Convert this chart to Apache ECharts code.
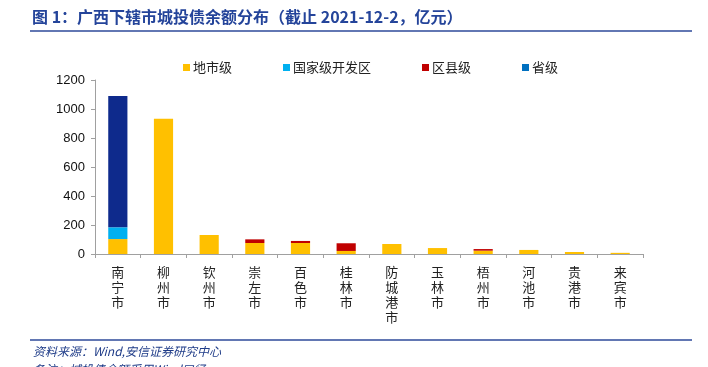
<!DOCTYPE html>
<html><head><meta charset="utf-8">
<script src="https://cdn.jsdelivr.net/npm/echarts@6/dist/echarts.min.js"></script>
<style>html,body{margin:0;padding:0;background:#fff}#c{width:708px;height:367px}</style>
</head><body><div id="c"></div>
<script>
var categories = ['南宁市','柳州市','钦州市','崇左市','百色市','桂林市','防城港市','玉林市','梧州市','河池市','贵港市','来宾市'];
var seriesNames = ['地市级','国家级开发区','区县级','省级'];
var cityLevel = [103, 933, 131, 76, 76, 21, 69, 41, 23, 28, 14, 8];
var devZone   = [81, 0, 0, 0, 0, 0, 0, 0, 0, 0, 0, 0];
var county    = [0, 0, 0, 25, 14, 53, 0, 0, 11, 0, 0, 0];
var province  = [906, 0, 0, 0, 0, 0, 0, 0, 0, 0, 0, 0];
var yTicks = [0, 200, 400, 600, 800, 1000, 1200];

var colors = ['#FFC000', '#00B0F0', '#C00000', '#0E2A8C'];
var legendColors = ['#FFC000', '#00B0F0', '#C00000', '#0070C0'];
var dataSets = [cityLevel, devZone, county, province];
var font = '"Liberation Sans", Arial, "Noto Sans CJK SC", sans-serif';
var cjk = '"Noto Sans CJK SC", sans-serif';

var chart = echarts.init(document.getElementById('c'), null, {renderer: 'canvas'});
chart.setOption({
  animation: false,
  textStyle: {fontFamily: font},
  grid: {left: 95, right: 65, top: 80, bottom: 113, containLabel: false},
  legend: {
    left: 183, top: 61, padding: 0, itemWidth: 7, itemHeight: 7, itemGap: 51,
    icon: 'rect',
    textStyle: {fontSize: 13, color: '#222', fontFamily: cjk, padding: [0,0,0,-2]},
    data: seriesNames.map(function(n, i){ return {name: n, itemStyle: {color: legendColors[i]}}; })
  },
  xAxis: {
    type: 'category', data: categories,
    axisLine: {lineStyle: {color: '#A0A0A0'}},
    axisTick: {show: true, length: 4, lineStyle: {color: '#A0A0A0'}},
    axisLabel: {
      interval: 0, margin: 11, color: '#222', fontSize: 13, fontFamily: cjk, lineHeight: 15,
      formatter: function(v){ return v.split('').join('\n'); }
    }
  },
  yAxis: {
    type: 'value', min: 0, max: 1200, interval: 200,
    axisLine: {show: true, lineStyle: {color: '#A0A0A0'}},
    axisTick: {show: true, length: 4, lineStyle: {color: '#A0A0A0'}},
    splitLine: {show: false},
    axisLabel: {margin: 10, color: '#111', fontSize: 13, fontFamily: font,
      formatter: function(v){ return yTicks.indexOf(v) >= 0 ? String(v) : ''; }}
  },
  series: seriesNames.map(function(n, i){
    return {name: n, type: 'bar', stack: 'total', barWidth: '42%',
      itemStyle: {color: colors[i]}, data: dataSets[i]};
  }),
  graphic: [
    {type: 'text', left: 32, top: 9, style: {text: '图 1：广西下辖市城投债余额分布（截止 2021-12-2，亿元）',
      font: 'bold 16px ' + cjk, fill: '#24449A'}},
    {type: 'line', shape: {x1: 30, y1: 31, x2: 692, y2: 31}, style: {stroke: '#2E4A9A', lineWidth: 1.5}},
    {type: 'line', shape: {x1: 30, y1: 340, x2: 692, y2: 340}, style: {stroke: '#2E4A9A', lineWidth: 1.5}},
    {type: 'text', left: 33, top: 345, style: {text: '资料来源：Wind,安信证券研究中心',
      font: 'italic 12px ' + cjk, fill: '#1F3C88'}},
    {type: 'text', left: 33, top: 363, style: {text: '备注：城投债余额采用Wind口径',
      font: 'italic 12px ' + cjk, fill: '#1F3C88'}}
  ]
});
</script></body></html>
